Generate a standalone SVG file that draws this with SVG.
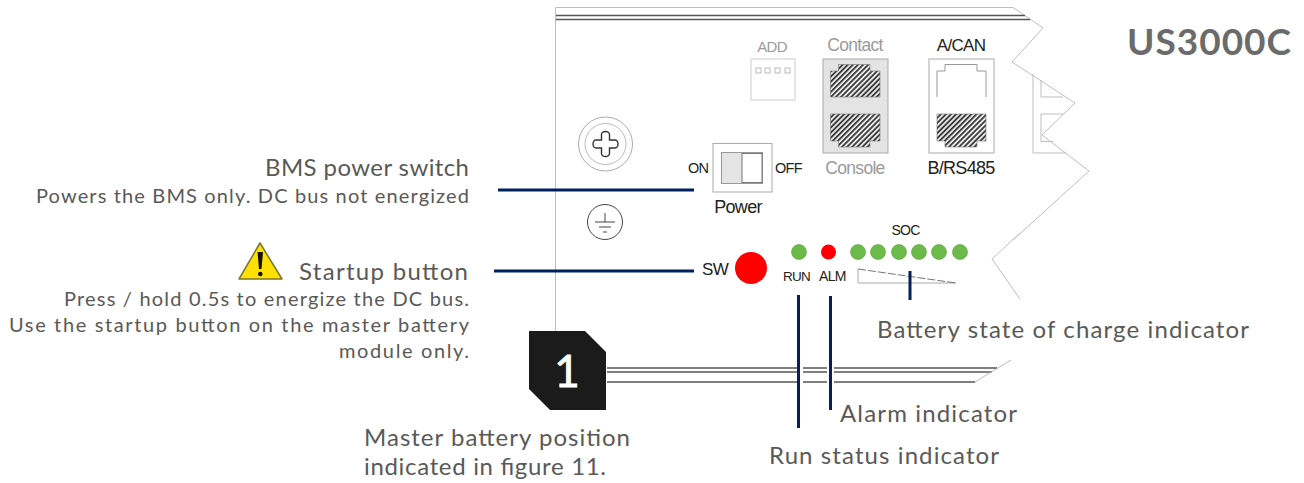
<svg xmlns="http://www.w3.org/2000/svg" width="1304" height="483" viewBox="0 0 1304 483">
<style>
.lbl{font-family:"Lato","Liberation Sans",sans-serif;fill:#595959}
.h{font-size:24px}.s{font-size:20px}.m{font-size:24px}
.d{font-family:"Liberation Sans",Arial,sans-serif;fill:#222;letter-spacing:-.7px}
.g{fill:#9a9a9a}
.ln{fill:none;stroke:#bdbdbd;stroke-width:1}
.dk{fill:none;stroke:#555;stroke-width:1.6}
.cn{fill:none;stroke:#002060;stroke-width:3}
.hatch{fill:url(#h);stroke:#777;stroke-width:.6}
.gled{fill:#6cbb4a;stroke:#5b9c3f;stroke-width:.6}
</style>
<defs>
<pattern id="h" width="3.600" height="3.600" patternUnits="userSpaceOnUse" patternTransform="rotate(45)"><rect width="3.600" height="3.600" fill="#e8e8e8"/><rect width="1.700" height="3.600" fill="#333"/></pattern>
</defs>
<rect width="1304" height="483" fill="#fff"/>
<g id="panel">
<path class="ln" d="M555.500 331V7.500H1013L1043 28L1012 62L1075 103L1042 135L1089 171L1013 240M1020 233L992 259L1020 299"/>
<path class="dk" d="M556 15.500H1025M556 19.500H1030"/>
<path class="ln" d="M1033 74V153H1066M1041 80V97H1063M1063 114H1041V141.500H1053"/>
<path class="dk" d="M607 368H797M803 368H827M834 368H997M607 372H797M803 372H827M834 372H992M607 382H797M803 382H827M834 382H975"/>
<path class="ln" d="M975 382L1011 360"/>
</g>
<g id="screw" fill="none" stroke="#777">
<circle cx="605.500" cy="144" r="27" stroke-width="1" stroke="#aaa"/>
<circle cx="605.500" cy="144" r="20.500" stroke-width=".8" stroke="#aaa"/>
<path stroke="#333" stroke-width="1.400" d="M601.500 134.500a4 3 0 0 1 8 0V140H615a3 4 0 0 1 0 8H609.500V153.500a4 3 0 0 1-8 0V148H596a3 4 0 0 1 0-8H601.500Z"/>
</g>
<g id="ground" fill="none" stroke="#444" stroke-width="1">
<circle cx="605" cy="222" r="17.500"/>
<path d="M605 213V222M595 222H615M599 227H611M603 232H607"/>
</g>
<g id="add">
<text class="d g" x="772" y="52" text-anchor="middle" font-size="15">ADD</text>
<rect x="751" y="59" width="44" height="41" fill="#fff" stroke="#ccc"/>
<g fill="#fff" stroke="#aaa" stroke-width=".8"><rect x="756" y="68" width="5" height="5"/><rect x="765" y="68" width="5" height="5"/><rect x="775" y="68" width="5" height="5"/><rect x="785" y="68" width="5" height="5"/></g>
</g>
<g id="contact-console">
<text class="d g" x="855" y="51" text-anchor="middle" font-size="17.500">Contact</text>
<rect x="823" y="59" width="65" height="94" fill="#e4e4e4" stroke="#aaa"/>
<path class="hatch" d="M830.500 97V71H838.500V64.500H870V71H880V97Z"/>
<path class="hatch" d="M830.500 114H880V141H870V147H838.500V141H830.500Z"/>
<text class="d g" x="855" y="174" text-anchor="middle" font-size="17.500">Console</text>
</g>
<g id="acan">
<text class="d" x="961" y="51" text-anchor="middle" font-size="17" fill="#111">A/CAN</text>
<rect x="929" y="59" width="65" height="94" fill="#fff" stroke="#aaa"/>
<path fill="none" stroke="#999" d="M937 97V71H945V64.500H977V71H986V97"/>
<path class="hatch" d="M937 114H986V141H977V147H945V141H937Z"/>
<text class="d" x="961" y="174" text-anchor="middle" font-size="18" fill="#111">B/RS485</text>
</g>
<g id="power">
<text class="d" x="688" y="173" font-size="14.500">ON</text>
<rect x="713" y="143.500" width="59" height="48.500" fill="#fff" stroke="#aaa"/>
<rect x="721.500" y="152.500" width="41" height="31" fill="#e4e4e4" stroke="#999"/>
<rect x="742" y="153.500" width="20" height="29" fill="#fff" stroke="#777"/>
<text class="d" x="775" y="173" font-size="14.500">OFF</text>
<text class="d" x="738" y="213" text-anchor="middle" font-size="18">Power</text>
</g>
<g id="sw">
<text class="d" x="702" y="275" font-size="17">SW</text>
<circle cx="751" cy="268" r="16" fill="#fe0000"/>
</g>
<g id="leds">
<circle class="gled" cx="799" cy="252" r="7.500"/>
<circle cx="828.500" cy="252" r="7.500" fill="#fe0000"/>
<circle class="gled" cx="858" cy="252" r="7.500"/><circle class="gled" cx="878" cy="252" r="7.500"/><circle class="gled" cx="899" cy="252" r="7.500"/><circle class="gled" cx="919" cy="252" r="7.500"/><circle class="gled" cx="939" cy="252" r="7.500"/><circle class="gled" cx="960" cy="252" r="7.500"/>
<text class="d" x="905.500" y="235" text-anchor="middle" font-size="14">SOC</text>
<text class="d" x="783" y="281" font-size="13.500">RUN</text>
<text class="d" x="819" y="281" font-size="14">ALM</text>
<path fill="none" stroke="#aaa" d="M858 269V283H956"/>
<path fill="none" stroke="#777" stroke-dasharray="8 2" d="M858 269L956 283"/>
</g>
<g id="connectors">
<path class="cn" d="M498 190H694M494 271H694M798.500 295V428M830.500 296V410M910 271V300"/>
</g>
<g id="badge">
<path fill="#1b1b1b" d="M529 331H585L606 352V410H550L529 389Z"/>
<text x="567" y="387" text-anchor="middle" font-family="Lato,'Liberation Sans',sans-serif" font-size="44" stroke="#fff" stroke-width=".8" fill="#fff">1</text>
</g>
<g id="warning">
<path d="M260 243L282 279H239Z" fill="#ffe000" stroke="#7a7430" stroke-width="1.500" stroke-linejoin="round"/>
<path d="M257.500 252H263L261.500 269H259Z" fill="#111"/>
<circle cx="260.300" cy="274" r="2.300" fill="#111"/>
</g>
<g id="labels">
<text class="lbl" x="1291" y="55" text-anchor="end" font-size="37" font-weight="700" style="fill:#6b6b6b" textLength="164">US3000C</text>
<text class="lbl h" x="469" y="176" text-anchor="end" textLength="204">BMS power switch</text>
<text class="lbl s" x="469" y="203" text-anchor="end" textLength="433">Powers the BMS only. DC bus not energized</text>
<text class="lbl h" x="468" y="280" text-anchor="end" textLength="169">Startup button</text>
<text class="lbl s" x="469" y="306" text-anchor="end" textLength="405">Press / hold 0.5s to energize the DC bus.</text>
<text class="lbl s" x="469" y="332" text-anchor="end" textLength="460">Use the startup button on the master battery</text>
<text class="lbl s" x="469" y="358" text-anchor="end" textLength="130">module only.</text>
<text class="lbl m" x="364" y="446" textLength="266">Master battery position</text>
<text class="lbl m" x="364" y="475" textLength="242">indicated in figure 11.</text>
<text class="lbl m" x="877" y="338" textLength="372">Battery state of charge indicator</text>
<text class="lbl m" x="840" y="422" textLength="177">Alarm indicator</text>
<text class="lbl m" x="769" y="464" textLength="230">Run status indicator</text>
</g>
</svg>
